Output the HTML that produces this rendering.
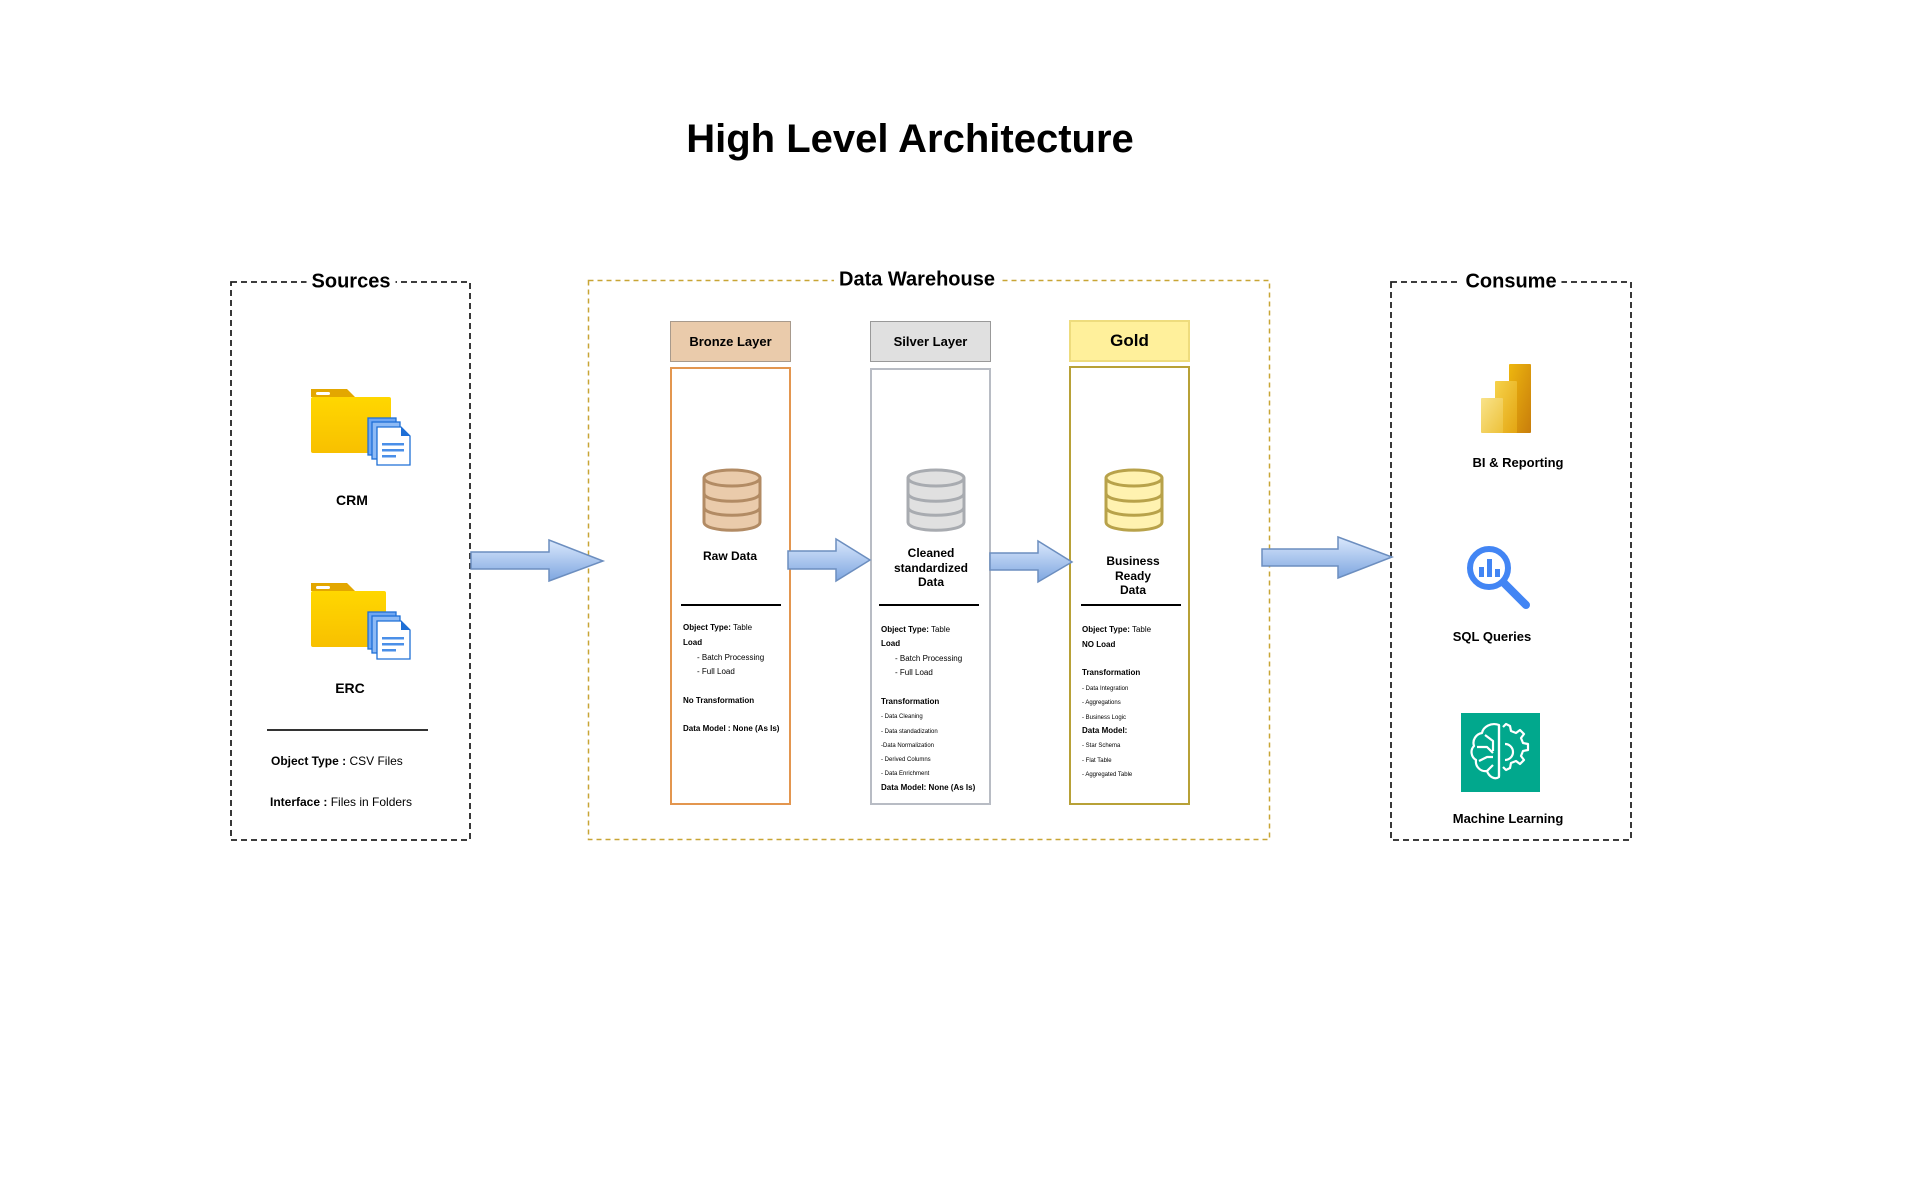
<!DOCTYPE html>
<html><head><meta charset="utf-8"><style>
body{margin:0;width:1920px;height:1200px;background:#fff;position:relative;overflow:hidden;font-family:"Liberation Sans",Arial,sans-serif;color:#000}
.a{position:absolute}
.box{position:absolute;box-sizing:border-box}
.t{position:absolute;white-space:nowrap;font-weight:bold}
.sec{position:absolute;font-weight:bold;font-size:20px;background:#fff;padding:0 5px;transform:translate(-50%,-50%);white-space:nowrap}
.hdr{position:absolute;box-sizing:border-box;display:flex;align-items:center;justify-content:center;font-weight:bold;font-size:13px}
.c{transform:translateX(-50%);text-align:center}
.sm{position:absolute;white-space:nowrap;font-size:8px}
.xs{position:absolute;white-space:nowrap;font-size:6px}
.b{font-weight:bold}
</style></head><body>
<div class="t c" style="left:910px;top:117px;font-size:40px">High Level Architecture</div>

<svg class="a" style="left:0;top:0" width="1920" height="1200">
<rect x="231" y="282" width="239" height="558" fill="none" stroke="#222" stroke-width="1.8" stroke-dasharray="6 4"/>
<rect x="1391" y="282" width="240" height="558" fill="none" stroke="#222" stroke-width="1.8" stroke-dasharray="6 4"/>
<rect x="588.5" y="280.5" width="681" height="559" fill="none" stroke="#c8a535" stroke-width="1.5" stroke-dasharray="5 4"/>
</svg>
<div class="sec" style="left:351px;top:282px">Sources</div>
<div class="sec" style="left:1511px;top:282px">Consume</div>
<div class="sec" style="left:917px;top:280px">Data Warehouse</div>

<!-- folders -->
<svg class="a" style="left:305px;top:383px" width="115" height="90" viewBox="0 0 115 90">
<defs><linearGradient id="fg" x1="0" y1="0" x2="0" y2="1"><stop offset="0" stop-color="#ffd700"/><stop offset="1" stop-color="#f8c000"/></linearGradient></defs>
<path d="M6 6h36l8 8H6z" fill="#e3a700"/><rect x="11" y="9" width="14" height="3" rx="1.5" fill="#fff"/>
<rect x="6" y="14" width="80" height="56" rx="2" fill="url(#fg)"/>
<rect x="63" y="35" width="28" height="37" fill="#6ea6f2" stroke="#1e6fd6" stroke-width="1.3"/>
<rect x="67" y="39" width="28" height="37" fill="#8dbaf5" stroke="#1e6fd6" stroke-width="1.3"/>
<path d="M72 44h24l9 9v29H72z" fill="#fff" stroke="#1e6fd6" stroke-width="1.3"/><path d="M96 44l9 9h-9z" fill="#1e6fd6"/>
<rect x="77" y="60" width="22" height="2.5" fill="#4a8fe8"/><rect x="77" y="66" width="22" height="2.5" fill="#4a8fe8"/><rect x="77" y="72" width="14" height="2.5" fill="#4a8fe8"/>
</svg>
<svg class="a" style="left:305px;top:577px" width="115" height="90" viewBox="0 0 115 90">
<path d="M6 6h36l8 8H6z" fill="#e3a700"/><rect x="11" y="9" width="14" height="3" rx="1.5" fill="#fff"/>
<rect x="6" y="14" width="75" height="56" rx="2" fill="url(#fg)"/>
<rect x="63" y="35" width="28" height="37" fill="#6ea6f2" stroke="#1e6fd6" stroke-width="1.3"/>
<rect x="67" y="39" width="28" height="37" fill="#8dbaf5" stroke="#1e6fd6" stroke-width="1.3"/>
<path d="M72 44h24l9 9v29H72z" fill="#fff" stroke="#1e6fd6" stroke-width="1.3"/><path d="M96 44l9 9h-9z" fill="#1e6fd6"/>
<rect x="77" y="60" width="22" height="2.5" fill="#4a8fe8"/><rect x="77" y="66" width="22" height="2.5" fill="#4a8fe8"/><rect x="77" y="72" width="14" height="2.5" fill="#4a8fe8"/>
</svg>
<div class="t c" style="left:352px;top:492px;font-size:14px">CRM</div>
<div class="t c" style="left:350px;top:680px;font-size:14px">ERC</div>
<div class="a" style="left:267px;top:729px;width:161px;height:2px;background:#333"></div>
<div class="a" style="left:271px;top:754px;font-size:12px;white-space:nowrap"><b>Object Type :</b> CSV Files</div>
<div class="a" style="left:270px;top:795px;font-size:12px;white-space:nowrap"><b>Interface :</b> Files in Folders</div>

<!-- layer headers -->
<div class="hdr" style="left:670px;top:321px;width:121px;height:41px;background:#eacbab;border:1px solid #a89a8c">Bronze Layer</div>
<div class="hdr" style="left:870px;top:321px;width:121px;height:41px;background:#e0e0e0;border:1px solid #999">Silver Layer</div>
<div class="hdr" style="left:1069px;top:320px;width:121px;height:42px;background:#fff09b;border:2px solid #eedc7d;font-size:17px">Gold</div>
<!-- bodies -->
<div class="box" style="left:670px;top:367px;width:121px;height:438px;border:2px solid #e3964f"></div>
<div class="box" style="left:870px;top:368px;width:121px;height:437px;border:2px solid #b8bcc4"></div>
<div class="box" style="left:1069px;top:366px;width:121px;height:439px;border:2px solid #b8a137"></div>

<!-- cylinders -->
<svg class="a" style="left:701px;top:468px" width="62" height="66" viewBox="0 0 62 66">
<path d="M3 10v44c0 11 56 11 56 0V10" fill="#eacbab" stroke="#b28b64" stroke-width="3"/>
<ellipse cx="31" cy="10" rx="28" ry="8" fill="#eacbab" stroke="#b28b64" stroke-width="3"/>
<path d="M3 25c0 11 56 11 56 0M3 39c0 11 56 11 56 0" fill="none" stroke="#b28b64" stroke-width="3"/></svg>
<svg class="a" style="left:905px;top:468px" width="62" height="66" viewBox="0 0 62 66">
<path d="M3 10v44c0 11 56 11 56 0V10" fill="#e0e0e0" stroke="#a8abb0" stroke-width="3"/>
<ellipse cx="31" cy="10" rx="28" ry="8" fill="#e0e0e0" stroke="#a8abb0" stroke-width="3"/>
<path d="M3 25c0 11 56 11 56 0M3 39c0 11 56 11 56 0" fill="none" stroke="#a8abb0" stroke-width="3"/></svg>
<svg class="a" style="left:1103px;top:468px" width="62" height="66" viewBox="0 0 62 66">
<path d="M3 10v44c0 11 56 11 56 0V10" fill="#fff2b0" stroke="#b8a24a" stroke-width="3"/>
<ellipse cx="31" cy="10" rx="28" ry="8" fill="#fff2b0" stroke="#b8a24a" stroke-width="3"/>
<path d="M3 25c0 11 56 11 56 0M3 39c0 11 56 11 56 0" fill="none" stroke="#b8a24a" stroke-width="3"/></svg>

<div class="t c" style="left:730px;top:549px;font-size:12px">Raw Data</div>
<div class="t c" style="left:931px;top:546px;font-size:12px;line-height:14.5px">Cleaned<br>standardized<br>Data</div>
<div class="t c" style="left:1133px;top:554px;font-size:12px;line-height:14.5px">Business<br>Ready<br>Data</div>

<div class="a" style="left:681px;top:604px;width:100px;height:1.5px;background:#000"></div>
<div class="a" style="left:879px;top:604px;width:100px;height:1.5px;background:#000"></div>
<div class="a" style="left:1081px;top:604px;width:100px;height:1.5px;background:#000"></div>

<!-- bronze text -->
<div class="sm" style="left:683px;top:623px"><b>Object Type:</b> Table</div>
<div class="sm b" style="left:683px;top:638px">Load</div>
<div class="sm" style="left:697px;top:653px">- Batch Processing</div>
<div class="sm" style="left:697px;top:667px">- Full Load</div>
<div class="sm b" style="left:683px;top:696px">No Transformation</div>
<div class="sm b" style="left:683px;top:724px">Data Model : None (As Is)</div>
<!-- silver text -->
<div class="sm" style="left:881px;top:625px"><b>Object Type:</b> Table</div>
<div class="sm b" style="left:881px;top:639px">Load</div>
<div class="sm" style="left:895px;top:654px">- Batch Processing</div>
<div class="sm" style="left:895px;top:668px">- Full Load</div>
<div class="sm b" style="left:881px;top:697px">Transformation</div>
<div class="xs" style="left:881px;top:714px">- Data Cleaning</div>
<div class="xs" style="left:881px;top:729px">- Data standadization</div>
<div class="xs" style="left:881px;top:743px">-Data Normalization</div>
<div class="xs" style="left:881px;top:757px">- Derived Columns</div>
<div class="xs" style="left:881px;top:771px">- Data Enrichment</div>
<div class="sm b" style="left:881px;top:783px">Data Model: None (As Is)</div>
<!-- gold text -->
<div class="sm" style="left:1082px;top:625px"><b>Object Type:</b> Table</div>
<div class="sm b" style="left:1082px;top:640px">NO Load</div>
<div class="sm b" style="left:1082px;top:668px">Transformation</div>
<div class="xs" style="left:1082px;top:686px">- Data Integration</div>
<div class="xs" style="left:1082px;top:700px">- Aggregations</div>
<div class="xs" style="left:1082px;top:715px">- Business Logic</div>
<div class="sm b" style="left:1082px;top:726px">Data Model:</div>
<div class="xs" style="left:1082px;top:743px">- Star Schema</div>
<div class="xs" style="left:1082px;top:758px">- Flat Table</div>
<div class="xs" style="left:1082px;top:772px">- Aggregated Table</div>

<!-- arrows -->
<svg class="a" style="left:0;top:0" width="1920" height="1200">
<defs><linearGradient id="ag" x1="0" y1="0" x2="0" y2="1"><stop offset="0" stop-color="#dae8fc"/><stop offset="1" stop-color="#7ea6e0"/></linearGradient></defs>
<path d="M471 552H549V540L603 561L549 581V569H471Z" fill="url(#ag)" stroke="#6c8ebf" stroke-width="1.5"/>
<path d="M788 551H836V539L870 560L836 581V569H788Z" fill="url(#ag)" stroke="#6c8ebf" stroke-width="1.5"/>
<path d="M990 553H1038V541L1072 562L1038 582V570H990Z" fill="url(#ag)" stroke="#6c8ebf" stroke-width="1.5"/>
<path d="M1262 549H1338V537L1392 557L1338 578V566H1262Z" fill="url(#ag)" stroke="#6c8ebf" stroke-width="1.5"/>
</svg>

<!-- consume icons -->
<svg class="a" style="left:1480px;top:364px" width="52" height="70" viewBox="0 0 52 70">
<defs><linearGradient id="p1" x1="0" y1="0" x2="1" y2="1"><stop offset="0" stop-color="#eeb70e"/><stop offset="1" stop-color="#c87d0c"/></linearGradient>
<linearGradient id="p2" x1="0" y1="0" x2="1" y2="1"><stop offset="0" stop-color="#f6d24a"/><stop offset="1" stop-color="#e3a512"/></linearGradient>
<linearGradient id="p3" x1="0" y1="0" x2="1" y2="1"><stop offset="0" stop-color="#f9e38a"/><stop offset="1" stop-color="#edc13a"/></linearGradient></defs>
<rect x="29" y="0" width="22" height="69" rx="1" fill="url(#p1)"/>
<rect x="15" y="17" width="22" height="52" rx="1" fill="url(#p2)"/>
<rect x="1" y="34" width="22" height="35" rx="1" fill="url(#p3)"/>
</svg>
<div class="t c" style="left:1518px;top:455px;font-size:13px">BI &amp; Reporting</div>
<svg class="a" style="left:1464px;top:543px" width="70" height="70" viewBox="0 0 70 70">
<circle cx="25" cy="25" r="19" fill="none" stroke="#4285f4" stroke-width="6"/>
<rect x="15" y="24" width="5" height="10" fill="#4285f4"/><rect x="23" y="16" width="5" height="18" fill="#4285f4"/><rect x="31" y="26" width="5" height="8" fill="#4285f4"/>
<path d="M40 40L62 62" stroke="#4285f4" stroke-width="8" stroke-linecap="round"/>
</svg>
<div class="t c" style="left:1492px;top:629px;font-size:13px">SQL Queries</div>
<svg class="a" style="left:1461px;top:713px" width="79" height="79" viewBox="0 0 79 79">
<rect width="79" height="79" fill="#01a88d"/>
<g fill="none" stroke="#fff" stroke-width="2.2" stroke-linejoin="round">
<path d="M38 12c-8-3-16 2-17 8-6 1-10 7-8 13-4 4-3 11 2 14-1 7 5 12 11 11 2 6 8 9 12 6z"/>
<path d="M38 12v51M24 22l8 6v10M16 34h10l6 6M18 48l8-4h6M26 58l6-6"/>
<path d="M42 14l3-3 4 2 1 5 5 2 4-3 4 4-3 4 2 5 5 1v6l-5 1-2 5 3 4-4 4-4-3-5 2-1 5-4 2-3-3"/>
<path d="M44 31a8 8 0 0 1 0 16"/>
</g></svg>
<div class="t c" style="left:1508px;top:811px;font-size:13px">Machine Learning</div>
</body></html>
